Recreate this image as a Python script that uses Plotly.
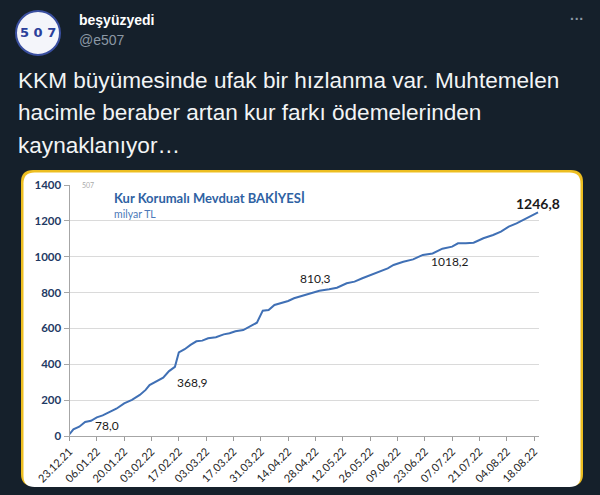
import plotly.graph_objects as go

# ---------------- data ----------------
dates = ["2021-12-23", "2021-12-25", "2021-12-28", "2021-12-31", "2022-01-03", "2022-01-06",
         "2022-01-09", "2022-01-13", "2022-01-16", "2022-01-20", "2022-01-24", "2022-01-28",
         "2022-01-31", "2022-02-02", "2022-02-06", "2022-02-09", "2022-02-12", "2022-02-15",
         "2022-02-17", "2022-02-20", "2022-02-23", "2022-02-26", "2022-03-01", "2022-03-04",
         "2022-03-08", "2022-03-12", "2022-03-15", "2022-03-18", "2022-03-22", "2022-03-25",
         "2022-03-29", "2022-04-01", "2022-04-04", "2022-04-07", "2022-04-11", "2022-04-14",
         "2022-04-17", "2022-04-22", "2022-04-26", "2022-04-30", "2022-05-05", "2022-05-09",
         "2022-05-14", "2022-05-18", "2022-05-22", "2022-05-27", "2022-05-31", "2022-06-04",
         "2022-06-07", "2022-06-12", "2022-06-17", "2022-06-22", "2022-06-27", "2022-07-02",
         "2022-07-07", "2022-07-10", "2022-07-14", "2022-07-18", "2022-07-23", "2022-07-28",
         "2022-08-01", "2022-08-05", "2022-08-09", "2022-08-14", "2022-08-17", "2022-08-20"]
balance = [10, 37, 52, 78, 85, 104,
           115, 136, 152, 182, 201, 229,
           257, 284, 308, 325, 362, 386,
           466, 484, 508, 528, 532, 545,
           551, 567, 573, 584, 591, 610,
           632, 699, 703, 731, 742, 753,
           768, 785, 799, 810.3, 818, 827,
           852, 861, 880, 902, 916, 935,
           954, 972, 985, 1010, 1018.2, 1045,
           1056, 1075, 1075, 1078, 1103, 1121,
           1140, 1168, 1186, 1214, 1227, 1246.8]

label_text = ["78,0", "368,9", "810,3", "1018,2", "1246,8"]
label_x = ["2022-01-11", "2022-02-24", "2022-04-28", "2022-07-06", "2022-08-20"]
label_y = [56, 301, 881, 971, 1294]
label_bold = [False, False, False, False, True]

tick_dates = ["2021-12-23", "2022-01-06", "2022-01-20", "2022-02-03", "2022-02-17", "2022-03-03",
              "2022-03-17", "2022-03-31", "2022-04-14", "2022-04-28", "2022-05-12", "2022-05-26",
              "2022-06-09", "2022-06-23", "2022-07-07", "2022-07-21", "2022-08-04", "2022-08-18"]
tick_labels = ["23.12.21", "06.01.22", "20.01.22", "03.02.22", "17.02.22", "03.03.22",
               "17.03.22", "31.03.22", "14.04.22", "28.04.22", "12.05.22", "26.05.22",
               "09.06.22", "23.06.22", "07.07.22", "21.07.22", "04.08.22", "18.08.22"]
y_ticks = [0, 200, 400, 600, 800, 1000, 1200, 1400]

tweet_lines = ["KKM büyümesinde ufak bir hızlanma var. Muhtemelen",
               "hacimle beraber artan kur farkı ödemelerinden",
               "kaynaklanıyor…"]

W, H = 600, 495
BG = "#15202B"


def px(x):
    return x / W


def py(y):
    return 1 - y / H


def rrect(x0, y0, x1, y1, r):
    rx, ry = r / W, r / H
    X0, X1 = px(x0), px(x1)
    Y0, Y1 = py(y0), py(y1)  # Y0 top (larger), Y1 bottom
    return (f"M {X0+rx},{Y0} L {X1-rx},{Y0} Q {X1},{Y0} {X1},{Y0-ry} "
            f"L {X1},{Y1+ry} Q {X1},{Y1} {X1-rx},{Y1} L {X0+rx},{Y1} "
            f"Q {X0},{Y1} {X0},{Y1+ry} L {X0},{Y0-ry} Q {X0},{Y0} {X0+rx},{Y0} Z")


fig = go.Figure()
fig.add_trace(go.Scatter(x=dates, y=balance, mode="lines",
                         line=dict(color="#4070B5", width=2), hoverinfo="skip",
                         showlegend=False))

shapes = [
    dict(type="path", xref="paper", yref="paper", path=rrect(21, 170, 583, 486, 12),
         fillcolor="#EDBE21", line=dict(width=0), layer="below"),
    dict(type="path", xref="paper", yref="paper", path=rrect(23.5, 172.5, 580.5, 487, 11),
         fillcolor="#FFFFFF", line=dict(width=0), layer="below"),
    dict(type="circle", xref="paper", yref="paper", x0=px(16), x1=px(60), y0=py(55), y1=py(11),
         fillcolor="#F4F5FA", line=dict(color="#3A4FA0", width=2), layer="below"),
]


def ann(x, y, text, size, color, family="Liberation Sans", xanchor="left", yanchor="middle"):
    return dict(x=px(x), y=py(y), xref="paper", yref="paper", text=text, showarrow=False,
                xanchor=xanchor, yanchor=yanchor,
                font=dict(family=family, size=size, color=color))


annotations = []
# header
annotations.append(ann(38, 33, "<b>5 0 7</b>", 13, "#2B3F9A", family="DejaVu Sans", xanchor="center"))
annotations.append(ann(77, 20, "<b>beşyüzyedi</b>", 14, "#FFFFFF"))
annotations.append(ann(77, 40, "@e507", 14, "#8B98A5"))
annotations.append(ann(577, 19, "<b>···</b>", 14, "#8B98A5", xanchor="center"))
for i, line in enumerate(tweet_lines):
    annotations.append(ann(16, 80 + i * 32.5, line, 22.6, "#F2F4F5"))

# chart texts
annotations.append(ann(80, 185, "507", 7, "#AAAAAA", family="Lato"))
annotations.append(ann(112, 198, "<b>Kur Korumalı Mevduat BAKİYESİ</b>", 13, "#2F62A3", family="Lato"))
annotations.append(ann(112, 214, "milyar TL", 10.5, "#4B78B8", family="Lato"))
for t, lx, ly, b in zip(label_text, label_x, label_y, label_bold):
    annotations.append(dict(x=lx, y=ly, xref="x", yref="y", xanchor="center", yanchor="middle",
                            text=f"<b>{t}</b>" if b else t, showarrow=False,
                            font=dict(family="Lato", size=14 if b else 12, color="#1A1A1A")))

fig.update_layout(
    width=W, height=H,
    margin=dict(l=0, r=0, t=0, b=0, pad=0, autoexpand=False),
    paper_bgcolor=BG, plot_bgcolor="rgba(0,0,0,0)",
    shapes=shapes, annotations=annotations,
    xaxis=dict(domain=[px(69.5), px(539)], range=["2021-12-23", "2022-08-20 12:00"],
               automargin=False,
               tickmode="array", tickvals=tick_dates, ticktext=tick_labels,
               tickangle=-45, ticks="outside", ticklen=4, tickcolor="#9A9A9A",
               showline=True, linecolor="#A6A6A6", linewidth=1, showgrid=False,
               zeroline=False, tickfont=dict(family="Lato", size=11, color="#262626")),
    yaxis=dict(domain=[py(436), py(185)], range=[0, 1400], tickvals=y_ticks,
               automargin=False,
               ticktext=[f"<b>{v}</b>" for v in y_ticks],
               ticks="outside", ticklen=5, tickcolor="#A6A6A6",
               showline=True, linecolor="#A6A6A6", linewidth=1,
               showgrid=True, gridcolor="#DADADA", gridwidth=1, zeroline=False,
               tickfont=dict(family="Lato", size=11.5, color="#1F3A64")),
)

fig.write_html("out.html")
